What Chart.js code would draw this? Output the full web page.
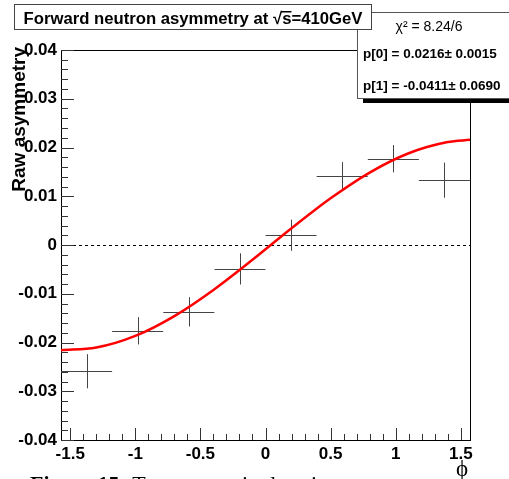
<!DOCTYPE html>
<html>
<head>
<meta charset="utf-8">
<script src="https://cdn.jsdelivr.net/npm/chart.js@4.4.1/dist/chart.umd.min.js"></script>
<style>
  html, body { margin:0; padding:0; background:#fff; }
  canvas { display:block; }
</style>
</head>
<body>
<canvas id="chartAsym" width="509" height="479"></canvas>
<script>
// measured points (phi bins, raw asymmetry)
const phiCenters = [-1.374, -0.982, -0.589, -0.196, 0.196, 0.589, 0.982, 1.374];
const phiErr     = [0.196, 0.196, 0.196, 0.196, 0.196, 0.196, 0.196, 0.196];
const asymValues = [-0.0259, -0.0176, -0.0137, -0.0049, 0.0020, 0.0142, 0.0177, 0.0133];
const asymErr    = [0.0035, 0.0028, 0.0030, 0.0032, 0.0032, 0.0028, 0.0028, 0.0036];

// fit curve
const fitPhi  = [-1.5708, -1.3, -1.0, -0.7, -0.4, -0.1, 0.2, 0.5, 0.8, 1.1, 1.4, 1.5708];
const fitAsym = [-0.02158, -0.02104, -0.01865, -0.01458, -0.00922, -0.00304, 0.00342, 0.00957, 0.01486, 0.01882, 0.02112, 0.02158];

const xTicks = [-1.5, -1, -0.5, 0, 0.5, 1, 1.5];
const yTicks = [-0.04, -0.03, -0.02, -0.01, 0, 0.01, 0.02, 0.03, 0.04];

const titleText = 'Forward neutron asymmetry at ';
const statsLines = ['\u03C7\u00B2 = 8.24/6', 'p[0] = 0.0216\u00B1 0.0015', 'p[1] = -0.0411\u00B1 0.0690'];

const SANS = "'Liberation Sans', Arial, Helvetica, sans-serif";
const SERIF = "'Liberation Serif', 'Times New Roman', serif";

const rootPlugin = {
  id: 'rootStyle',
  beforeDatasetsDraw(chart) {
    const ctx = chart.ctx, a = chart.chartArea;
    const xs = chart.scales.x, ys = chart.scales.y;
    ctx.save();
    // zero line
    ctx.strokeStyle = '#000';
    ctx.lineWidth = 1;
    ctx.setLineDash([3, 3]);
    const y0 = Math.round(ys.getPixelForValue(0)) + 0.5;
    ctx.beginPath(); ctx.moveTo(a.left, y0); ctx.lineTo(a.right, y0); ctx.stroke();
    ctx.setLineDash([]);
    // frame
    ctx.strokeStyle = '#000';
    ctx.strokeRect(Math.round(a.left) + 0.5, Math.round(a.top) + 0.5,
                   Math.round(a.right - a.left), Math.round(a.bottom - a.top));
    // ticks inward
    ctx.strokeStyle = '#333';
    ctx.beginPath();
    for (let i = -20; i <= 20; i++) {
      const v = i * 0.002;
      const py = Math.round(ys.getPixelForValue(v)) + 0.5;
      const len = (i % 5 === 0) ? 13 : 7;
      ctx.moveTo(a.left, py); ctx.lineTo(a.left + len, py);
    }
    for (let i = -15; i <= 15; i++) {
      const v = i * 0.1;
      const px = Math.round(xs.getPixelForValue(v)) + 0.5;
      const len = (i % 5 === 0) ? 12 : 6;
      ctx.moveTo(px, a.bottom); ctx.lineTo(px, a.bottom - len);
    }
    ctx.stroke();
    // error crosses
    ctx.strokeStyle = '#444';
    ctx.beginPath();
    phiCenters.forEach((x, i) => {
      const y = asymValues[i];
      const px = Math.round(xs.getPixelForValue(x)) + 0.5;
      const py = Math.round(ys.getPixelForValue(y)) + 0.5;
      ctx.moveTo(xs.getPixelForValue(x - phiErr[i]), py);
      ctx.lineTo(Math.min(xs.getPixelForValue(x + phiErr[i]), a.right), py);
      ctx.moveTo(px, ys.getPixelForValue(y + asymErr[i]));
      ctx.lineTo(px, ys.getPixelForValue(y - asymErr[i]));
    });
    ctx.stroke();
    ctx.restore();
  },
  afterDraw(chart) {
    const ctx = chart.ctx;
    ctx.save();
    // stats box
    ctx.fillStyle = '#000';
    ctx.fillRect(363, 99, 160, 4);
    ctx.fillStyle = '#fff';
    ctx.fillRect(357, 12, 160, 87);
    ctx.strokeStyle = '#555';
    ctx.lineWidth = 1;
    ctx.strokeRect(357.5, 12.5, 160, 86);
    ctx.fillStyle = '#000';
    ctx.textBaseline = 'middle';
    ctx.textAlign = 'center';
    ctx.font = '14px ' + SANS;
    ctx.fillText(statsLines[0], 429, 27);
    ctx.textAlign = 'left';
    ctx.font = 'bold 13.5px ' + SANS;
    ctx.fillText(statsLines[1], 363, 54);
    ctx.fillText(statsLines[2], 363, 86);

    // title box
    ctx.fillStyle = '#fff';
    ctx.fillRect(14, 4, 358, 26);
    ctx.strokeStyle = '#444';
    ctx.strokeRect(14.5, 4.5, 357, 25);
    ctx.fillStyle = '#000';
    ctx.font = 'bold 16.7px ' + SANS;
    ctx.textBaseline = 'alphabetic';
    ctx.textAlign = 'left';
    const parts = [titleText, '\u221A', 's', '=410GeV'];
    const widths = parts.map(p => ctx.measureText(p).width);
    const total = widths.reduce((s, w) => s + w, 0);
    let tx = 193 - total / 2;
    const base = 24;
    parts.forEach((p, i) => {
      ctx.fillText(p, tx, base);
      if (p === 's') {
        ctx.fillRect(tx - 1, base - 13, widths[i] + 1, 1.5);
      }
      tx += widths[i];
    });

    // y title
    ctx.save();
    ctx.translate(25, 47);
    ctx.rotate(-Math.PI / 2);
    ctx.font = 'bold 19px ' + SANS;
    ctx.textAlign = 'right';
    ctx.textBaseline = 'alphabetic';
    ctx.fillText('Raw asymmetry', 0, 0);
    ctx.restore();

    // x title
    ctx.font = '23px ' + SERIF;
    ctx.textAlign = 'center';
    ctx.textBaseline = 'alphabetic';
    ctx.fillText('\u03D5', 462, 476);

    // clipped caption below the figure
    ctx.textAlign = 'left';
    ctx.font = 'bold 22px ' + SERIF;
    ctx.fillText('Figure 15:', 30, 491);
    const cw = ctx.measureText('Figure 15: ').width;
    ctx.font = '22px ' + SERIF;
    ctx.fillText('Transverse single spin asymmetry', 30 + cw, 491);
    ctx.restore();
  }
};

new Chart(document.getElementById('chartAsym').getContext('2d'), {
  type: 'scatter',
  data: {
    datasets: [{
      type: 'line',
      data: fitPhi.map((x, i) => ({ x, y: fitAsym[i] })),
      borderColor: '#ff0000',
      borderWidth: 2.5,
      pointRadius: 0,
      cubicInterpolationMode: 'monotone',
      fill: false
    }]
  },
  options: {
    responsive: false,
    devicePixelRatio: 1,
    animation: false,
    layout: { padding: { top: 50, right: 39, left: 0, bottom: 0 } },
    plugins: { legend: { display: false }, tooltip: { enabled: false } },
    scales: {
      x: {
        type: 'linear',
        min: -1.5708, max: 1.5708,
        afterFit(s) { s.height = 39; },
        afterBuildTicks(s) { s.ticks = xTicks.map(v => ({ value: v })); },
        grid: { display: false, drawTicks: false },
        border: { display: false },
        ticks: {
          padding: 4,
          maxRotation: 0,
          autoSkip: false,
          color: '#000',
          font: { family: SANS, size: 17, weight: 'bold' },
          callback: v => String(+(+v).toFixed(2))
        }
      },
      y: {
        type: 'linear',
        min: -0.04, max: 0.04,
        afterFit(s) { s.width = 61; },
        afterBuildTicks(s) { s.ticks = yTicks.map(v => ({ value: v })); },
        grid: { display: false, drawTicks: false },
        border: { display: false },
        ticks: {
          padding: 4,
          autoSkip: false,
          color: '#000',
          font: { family: SANS, size: 17, weight: 'bold' },
          callback: v => String(+(+v).toFixed(2))
        }
      }
    }
  },
  plugins: [rootPlugin]
});
</script>
</body>
</html>
